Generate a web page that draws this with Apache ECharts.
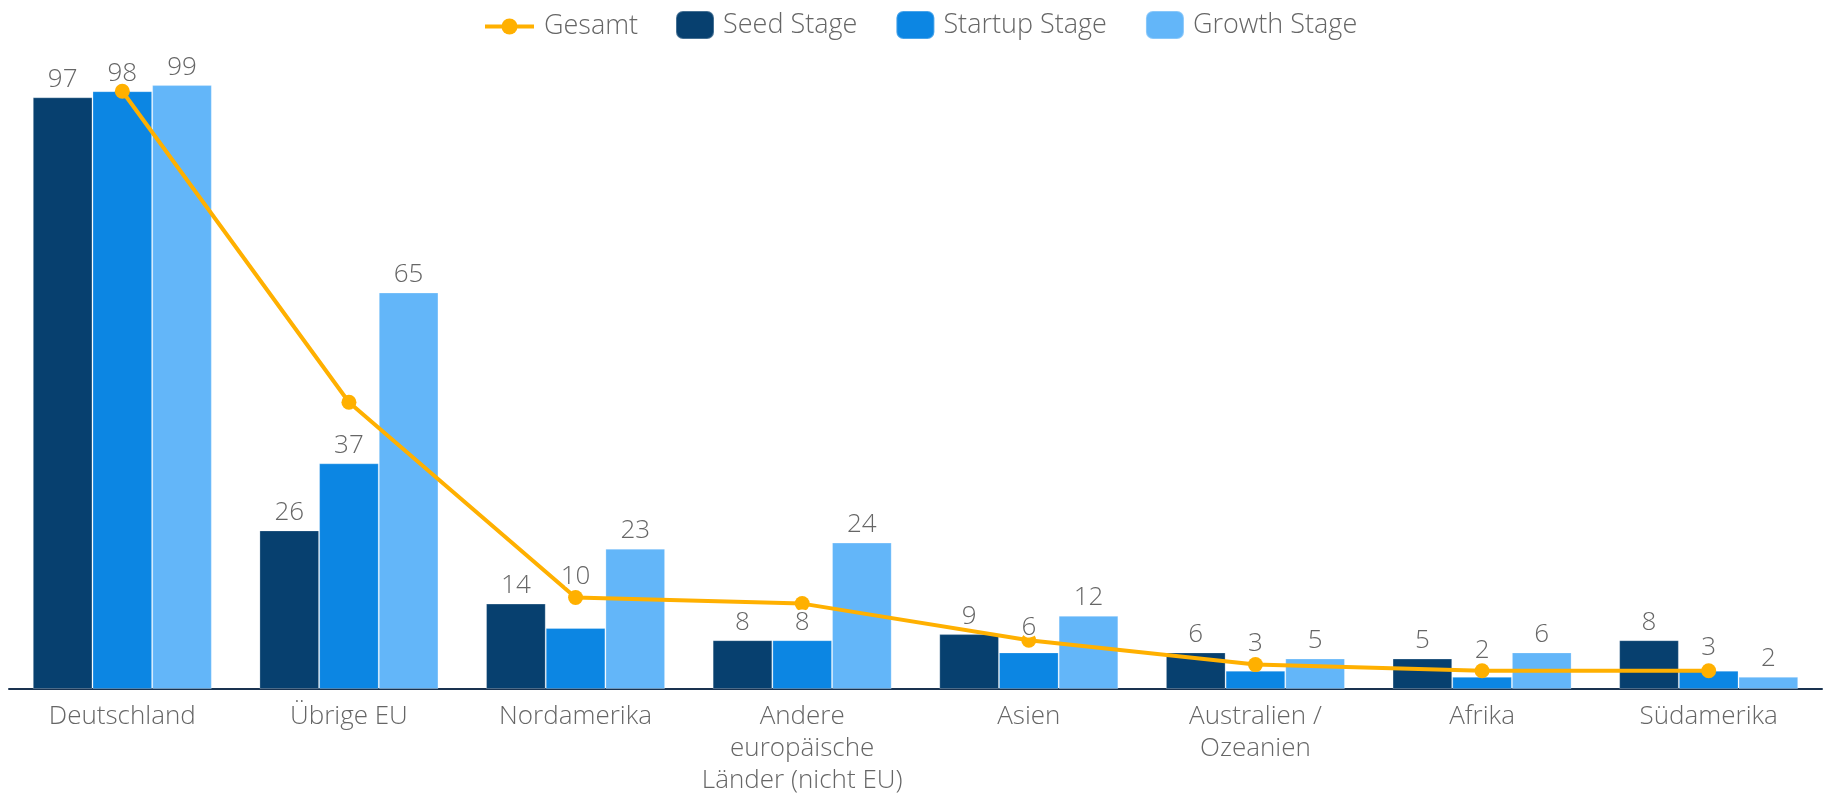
<!DOCTYPE html>
<html>
<head>
<meta charset="utf-8">
<script src="https://cdn.jsdelivr.net/npm/echarts@6/dist/echarts.min.js"></script>
<style>
  html, body { margin: 0; padding: 0; background: #fff; }
  #chart { width: 1825px; height: 794px; }
</style>
</head>
<body>
<div id="chart"></div>
<script>
const categories = [
  "Deutschland",
  "Übrige EU",
  "Nordamerika",
  "Andere\neuropäische\nLänder (nicht EU)",
  "Asien",
  "Australien /\nOzeanien",
  "Afrika",
  "Südamerika"
];
const seedStage = [97, 26, 14, 8, 9, 6, 5, 8];
const startupStage = [98, 37, 10, 8, 6, 3, 2, 3];
const growthStage = [99, 65, 23, 24, 12, 5, 6, 2];
const gesamt = [98, 47, 15, 14, 8, 4, 3, 3];

const font = "'Open Sans', sans-serif";
const textGray = "#666";
const lineColor = "#FFB000";

const stages = [
  { name: "Seed Stage", data: seedStage, color: "#07406F" },
  { name: "Startup Stage", data: startupStage, color: "#0C86E3" },
  { name: "Growth Stage", data: growthStage, color: "#63B6F9" }
];

// some labels sit higher in the original, to keep clear of the line
const liftedLabels = { "Startup Stage": { 2: 33, 4: 7, 5: 9, 6: 8, 7: 5 } };

const chart = echarts.init(document.getElementById("chart"));

const legendText = { color: textGray, fontFamily: font, fontWeight: 300, fontSize: 27, padding: [0, 0, 0, 4] };

// visible bars (on axis 0)
const barSeries = stages.map(s => ({
  name: s.name,
  type: "bar",
  xAxisIndex: 0,
  data: s.data,
  barGap: 0,
  barCategoryGap: "21%",
  z: 2,
  itemStyle: { color: s.color, borderColor: "rgba(255,255,255,0.25)", borderWidth: 1 },
  silent: true
}));

// transparent copies on a hidden twin axis that only carry the value labels,
// so the labels sit above the Gesamt line
const labelSeries = stages.map(s => ({
  name: s.name,
  type: "bar",
  xAxisIndex: 1,
  barGap: 0,
  barCategoryGap: "21%",
  z: 10,
  silent: true,
  itemStyle: { color: "rgba(0,0,0,0)" },
  label: {
    show: true,
    position: "top",
    distance: 5,
    color: textGray,
    fontFamily: font,
    fontWeight: 300,
    fontSize: 26,
    textBorderColor: "#fff",
    textBorderWidth: 5
  },
  data: s.data.map((v, i) => {
    const lift = (liftedLabels[s.name] || {})[i];
    return lift ? { value: v, label: { distance: 5 + lift } } : v;
  })
}));

const option = {
  animation: false,
  legend: [
    {
      left: 478,
      top: 8,
      padding: 5,
      itemWidth: 49,
      itemHeight: 20,
      data: ["Gesamt"],
      lineStyle: { width: 4 },
      textStyle: Object.assign({}, legendText, { padding: [0, 0, 0, 5] })
    },
    {
      left: 670,
      top: 5,
      padding: 5,
      itemWidth: 38,
      itemHeight: 28,
      itemGap: 38,
      data: ["Seed Stage", "Startup Stage", "Growth Stage"],
      textStyle: legendText
    }
  ],
  grid: { left: 9, right: 3, top: 79, bottom: 105, outerBoundsMode: "none" },
  xAxis: [
    {
      type: "category",
      data: categories,
      axisLine: { lineStyle: { color: "#1a3350", width: 2 } },
      axisTick: { show: false },
      axisLabel: {
        interval: 0,
        margin: 12,
        color: textGray,
        fontFamily: font,
        fontWeight: 300,
        fontSize: 26,
        lineHeight: 32
      }
    },
    {
      type: "category",
      data: categories,
      show: false
    }
  ],
  yAxis: {
    type: "value",
    min: 0,
    max: 100,
    show: false,
    splitLine: { show: false }
  },
  series: [
    ...barSeries,
    {
      name: "Gesamt",
      type: "line",
      xAxisIndex: 0,
      data: gesamt,
      z: 5,
      symbol: "circle",
      symbolSize: 15,
      color: lineColor,
      lineStyle: { width: 4, color: lineColor },
      itemStyle: { color: lineColor },
      silent: true
    },
    ...labelSeries
  ]
};

chart.setOption(option);
window.addEventListener("resize", () => chart.resize());
</script>
</body>
</html>
